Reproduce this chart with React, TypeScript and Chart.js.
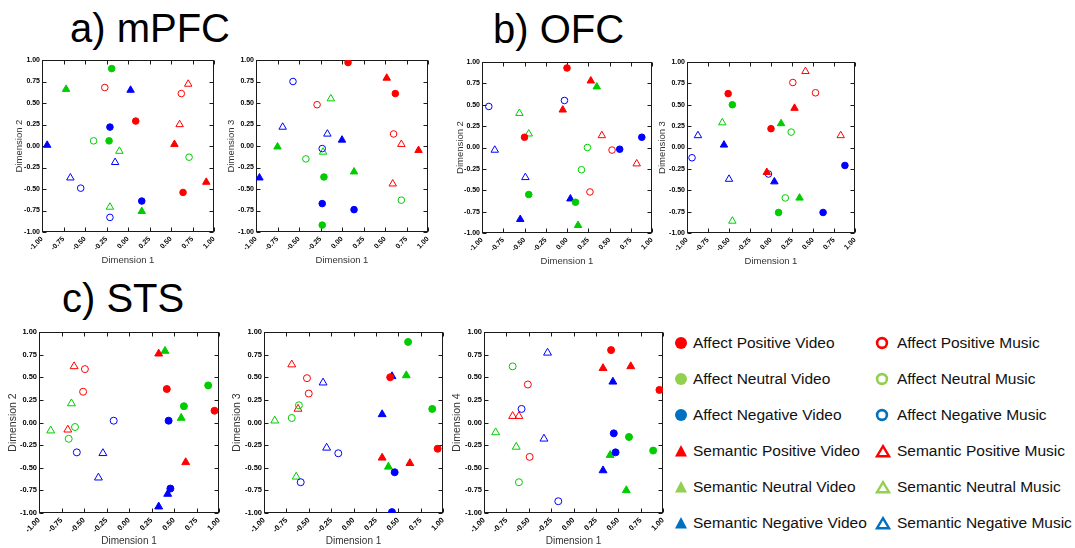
import React, { useEffect, useRef } from 'react';
import { Chart, registerables } from 'chart.js';
Chart.register(...registerables);

// ---------- DATA ----------
const categories = [
  'Affect Positive Video', 'Affect Neutral Video', 'Affect Negative Video',
  'Semantic Positive Video', 'Semantic Neutral Video', 'Semantic Negative Video',
  'Affect Positive Music', 'Affect Neutral Music', 'Affect Negative Music',
  'Semantic Positive Music', 'Semantic Neutral Music', 'Semantic Negative Music',
];
const tickValues = [-1, -0.75, -0.5, -0.25, 0, 0.25, 0.5, 0.75, 1];

// two points per category, in category order
const mpfcD1D2 = [
  [0.09, 0.29], [0.64, -0.54], [-0.19, 0.90], [-0.22, 0.06], [-0.21, 0.22], [0.16, -0.64],
  [0.54, 0.02], [0.91, -0.42], [-0.72, 0.66], [0.16, -0.76], [-0.94, 0.01], [0.03, 0.65],
  [-0.27, 0.68], [0.62, 0.61], [-0.40, 0.06], [0.71, -0.13], [-0.55, -0.49], [-0.21, -0.83],
  [0.70, 0.72], [0.60, 0.25], [-0.10, -0.06], [-0.21, -0.71], [-0.15, -0.19], [-0.67, -0.37],
];
const mpfcD1D3 = [
  [0.07, 0.97], [0.62, 0.61], [-0.21, -0.36], [-0.23, -0.92], [-0.23, -0.67], [0.14, -0.74],
  [0.52, 0.79], [0.89, -0.05], [-0.75, -0.01], [0.14, -0.30], [0.00, 0.07], [-0.96, -0.37],
  [-0.29, 0.48], [0.60, 0.14], [-0.42, -0.15], [0.69, -0.63], [-0.57, 0.75], [-0.23, -0.03],
  [0.69, 0.02], [0.59, -0.44], [-0.13, 0.55], [-0.22, -0.07], [-0.69, 0.22], [-0.17, 0.14],
];
const ofcD1D2 = [
  [0.00, 0.93], [-0.50, 0.12], [-0.45, -0.55], [0.10, -0.64], [0.88, 0.12], [0.62, -0.02],
  [0.28, 0.78], [-0.05, 0.44], [0.35, 0.71], [0.13, -0.91], [0.04, -0.60], [-0.55, -0.84],
  [0.53, -0.03], [0.27, -0.52], [0.24, 0.00], [0.17, -0.26], [-0.03, 0.55], [-0.92, 0.48],
  [0.41, 0.14], [0.82, -0.19], [-0.56, 0.40], [-0.45, 0.16], [-0.85, -0.03], [-0.49, -0.35],
];
const ofcD1D3 = [
  [-0.51, 0.63], [0.00, 0.22], [-0.46, 0.50], [0.09, -0.76], [0.88, -0.21], [0.62, -0.76],
  [0.28, 0.46], [-0.05, -0.29], [0.12, 0.28], [0.34, -0.59], [-0.56, 0.03], [0.04, -0.40],
  [0.26, 0.76], [0.53, 0.64], [0.24, 0.18], [0.17, -0.59], [-0.94, -0.12], [-0.03, -0.31],
  [0.41, 0.89], [0.83, 0.14], [-0.58, 0.29], [-0.46, -0.86], [-0.87, 0.14], [-0.50, -0.37],
];
const stsD1D2 = [
  [0.42, 0.37], [0.95, 0.13], [0.88, 0.41], [0.61, 0.18], [0.44, 0.02], [0.46, -0.73],
  [0.33, 0.76], [0.63, -0.44], [0.40, 0.79], [0.58, 0.05], [0.43, -0.79], [0.33, -0.93],
  [-0.49, 0.59], [-0.51, 0.34], [-0.60, -0.05], [-0.67, -0.18], [-0.17, 0.02], [-0.58, -0.33],
  [-0.61, 0.62], [-0.68, -0.08], [-0.64, 0.21], [-0.87, -0.09], [-0.29, -0.34], [-0.34, -0.61],
];
const stsD1D3 = [
  [0.41, 0.50], [0.94, -0.29], [0.61, 0.89], [0.88, 0.15], [0.46, -0.55], [0.43, -0.99],
  [0.32, -0.39], [0.63, -0.45], [0.59, 0.52], [0.39, -0.49], [0.43, 0.51], [0.32, 0.09],
  [-0.52, 0.49], [-0.50, 0.32], [-0.61, 0.19], [-0.69, 0.05], [-0.17, -0.34], [-0.59, -0.66],
  [-0.69, 0.64], [-0.62, 0.15], [-0.88, 0.02], [-0.64, -0.60], [-0.34, 0.44], [-0.30, -0.28],
];
const stsD1D4 = [
  [0.42, 0.80], [0.96, 0.36], [0.62, -0.16], [0.89, -0.31], [0.45, -0.12], [0.47, -0.33],
  [0.33, 0.60], [0.64, 0.62], [0.41, -0.36], [0.59, -0.75], [0.44, 0.45], [0.33, -0.53],
  [-0.51, 0.42], [-0.49, -0.38], [-0.68, 0.62], [-0.61, -0.66], [-0.58, 0.15], [-0.17, -0.87],
  [-0.68, 0.07], [-0.61, 0.07], [-0.87, -0.11], [-0.64, -0.27], [-0.29, 0.77], [-0.33, -0.18],
];

// ---------- STYLE ----------
const FONT = "'Liberation Sans', Arial, sans-serif";
const plotColors = ['#FF0000', '#00CC00', '#0000FF'];
const legendColors = ['#FF0000', '#92D050', '#0070C0'];

const framePlugin = {
  id: 'frame',
  beforeDatasetsDraw(chart: any) {
    const { ctx, chartArea: a, scales } = chart;
    ctx.save();
    ctx.strokeStyle = '#1a1a1a';
    ctx.lineWidth = 1;
    const l = Math.round(a.left) + 0.5, r = Math.round(a.right) - 0.5;
    const t = Math.round(a.top) + 0.5, b = Math.round(a.bottom) - 0.5;
    ctx.strokeRect(l, t, r - l, b - t);
    ctx.beginPath();
    const len = 4;
    scales.x.ticks.forEach((tk: any) => {
      const px = Math.round(scales.x.getPixelForValue(tk.value)) + 0.5;
      ctx.moveTo(px, b); ctx.lineTo(px, b - len);
      ctx.moveTo(px, t); ctx.lineTo(px, t + len);
    });
    scales.y.ticks.forEach((tk: any) => {
      const py = Math.round(scales.y.getPixelForValue(tk.value)) + 0.5;
      ctx.moveTo(l, py); ctx.lineTo(l + len, py);
      ctx.moveTo(r, py); ctx.lineTo(r - len, py);
    });
    ctx.stroke();
    ctx.restore();
  },
};

type PanelProps = {
  data: number[][];
  L: number; T: number; W: number; H: number;
  yTitle: string;
  yTitleGap: number;
  tickSize: number;
  xTitleSize: number;
  yTitleSize: number;
  xH: number;
  mScale: number;
};

function Panel(p: PanelProps) {
  const ref = useRef<HTMLCanvasElement>(null);
  const yW = 40, padT = 8, padR = 10;
  const cw = yW + p.W + padR;
  const ch = padT + p.H + p.xH;
  useEffect(() => {
    const yLine = p.yTitleSize * 1.2;
    const datasets = categories.map((c, i) => {
      const semantic = c.startsWith('Semantic');
      const music = c.endsWith('Music');
      const col = plotColors[i % 3];
      return {
        label: c,
        data: p.data.slice(2 * i, 2 * i + 2).map(([x, y]) => ({ x, y })),
        pointStyle: semantic ? 'triangle' : 'circle',
        pointRadius: (semantic ? 4.3 : 3.3) * p.mScale,
        backgroundColor: music ? 'rgba(0,0,0,0)' : col,
        borderColor: col,
        borderWidth: 1,
      };
    });
    const tickFont = { family: FONT, size: p.tickSize, weight: 'bold' as const };
    const chart = new Chart(ref.current as HTMLCanvasElement, {
      type: 'scatter',
      data: { datasets },
      options: {
        responsive: false,
        animation: false,
        events: [],
        layout: { padding: { top: padT, right: padR, left: 0, bottom: 0 } },
        plugins: { legend: { display: false }, tooltip: { enabled: false } },
        scales: {
          x: {
            type: 'linear', min: -1, max: 1,
            afterFit: (s: any) => { s.height = p.xH; },
            afterBuildTicks: (s: any) => { s.ticks = tickValues.map((v) => ({ value: v })); },
            grid: { display: false, drawTicks: false },
            border: { display: false },
            ticks: {
              autoSkip: false, minRotation: 45, maxRotation: 45, padding: 3,
              font: tickFont, color: '#000',
              callback: (v: any) => Number(v).toFixed(2),
            },
            title: {
              display: true, text: 'Dimension 1', color: '#333',
              font: { family: FONT, size: p.xTitleSize }, padding: { top: 0, bottom: 1 },
            },
          },
          y: {
            type: 'linear', min: -1, max: 1,
            afterFit: (s: any) => { s.width = yW; },
            afterBuildTicks: (s: any) => { s.ticks = tickValues.map((v) => ({ value: v })); },
            grid: { display: false, drawTicks: false },
            border: { display: false },
            ticks: {
              autoSkip: false, padding: 2,
              font: tickFont, color: '#000',
              callback: (v: any) => Number(v).toFixed(2),
            },
            title: {
              display: true, text: p.yTitle, color: '#333',
              font: { family: FONT, size: p.yTitleSize },
              padding: { top: Math.max(0, yW - p.yTitleGap - yLine / 2), bottom: 0 },
            },
          },
        },
      } as any,
      plugins: [framePlugin],
    });
    return () => chart.destroy();
  }, []);
  return (
    <canvas
      ref={ref}
      width={cw}
      height={ch}
      style={{ position: 'absolute', left: p.L - yW, top: p.T - padT, width: cw, height: ch }}
    />
  );
}

function Marker({ idx }: { idx: number }) {
  const c = categories[idx];
  const semantic = c.startsWith('Semantic');
  const music = c.endsWith('Music');
  const col = legendColors[idx % 3];
  if (!semantic) {
    return music ? (
      <svg width="14" height="14"><circle cx="7" cy="7" r="4.9" fill="none" stroke={col} strokeWidth="2.6" /></svg>
    ) : (
      <svg width="14" height="14"><circle cx="7" cy="7" r="6" fill={col} /></svg>
    );
  }
  return music ? (
    <svg width="16" height="14"><polygon points="8,2.2 14,12.2 2,12.2" fill="none" stroke={col} strokeWidth="2.4" strokeLinejoin="miter" /></svg>
  ) : (
    <svg width="14" height="14"><polygon points="7,1 13,12.5 1,12.5" fill={col} /></svg>
  );
}

const titleStyle: React.CSSProperties = {
  position: 'absolute', fontFamily: FONT, fontSize: 40, lineHeight: '40px', color: '#000', whiteSpace: 'nowrap',
};

export default function App() {
  const top = { W: 172, H: 172, tickSize: 7, xTitleSize: 9.5, yTitleSize: 9.5, xH: 35, mScale: 1 };
  const sts = { W: 179, H: 181, tickSize: 7.5, xTitleSize: 10, yTitleSize: 10.5, xH: 35, mScale: 1.06 };
  const rows = [0, 1, 2, 3, 4, 5];
  return (
    <div style={{ position: 'absolute', left: 0, top: 0, width: 1075, height: 548, overflow: 'hidden', background: '#fff' }}>
      <div style={{ ...titleStyle, left: 70, top: 8 }}>a) mPFC</div>
      <div style={{ ...titleStyle, left: 493, top: 9 }}>b) OFC</div>
      <div style={{ ...titleStyle, left: 62, top: 278 }}>c) STS</div>

      <Panel data={mpfcD1D2} L={42} T={60} yTitle="Dimension 2" yTitleGap={23} {...top} />
      <Panel data={mpfcD1D3} L={256} T={60} yTitle="Dimension 3" yTitleGap={25} {...top} />
      <Panel data={ofcD1D2} L={482} T={62} yTitle="Dimension 2" yTitleGap={22} {...top} W={170} H={171} />
      <Panel data={ofcD1D3} L={687} T={62} yTitle="Dimension 3" yTitleGap={25} {...top} W={168} H={171} />

      <Panel data={stsD1D2} L={39} T={332} yTitle="Dimension 2" yTitleGap={26} {...sts} W={180} />
      <Panel data={stsD1D3} L={264} T={332} yTitle="Dimension 3" yTitleGap={27} {...sts} />
      <Panel data={stsD1D4} L={484} T={332} yTitle="Dimension 4" yTitleGap={27} {...sts} />

      {rows.map((r) => (
        <React.Fragment key={r}>
          <div style={{ position: 'absolute', left: 674, top: 343 + r * 36 - 7, width: 16, height: 14 }}>
            <Marker idx={r} />
          </div>
          <div style={{ position: 'absolute', left: 693, top: 343 + r * 36 - 10, fontFamily: FONT, fontSize: 15.5, lineHeight: '20px', color: '#111', whiteSpace: 'nowrap' }}>
            {categories[r]}
          </div>
          <div style={{ position: 'absolute', left: 875, top: 343 + r * 36 - 7, width: 16, height: 14 }}>
            <Marker idx={r + 6} />
          </div>
          <div style={{ position: 'absolute', left: 897, top: 343 + r * 36 - 10, fontFamily: FONT, fontSize: 15.5, lineHeight: '20px', color: '#111', whiteSpace: 'nowrap' }}>
            {categories[r + 6]}
          </div>
        </React.Fragment>
      ))}
    </div>
  );
}
